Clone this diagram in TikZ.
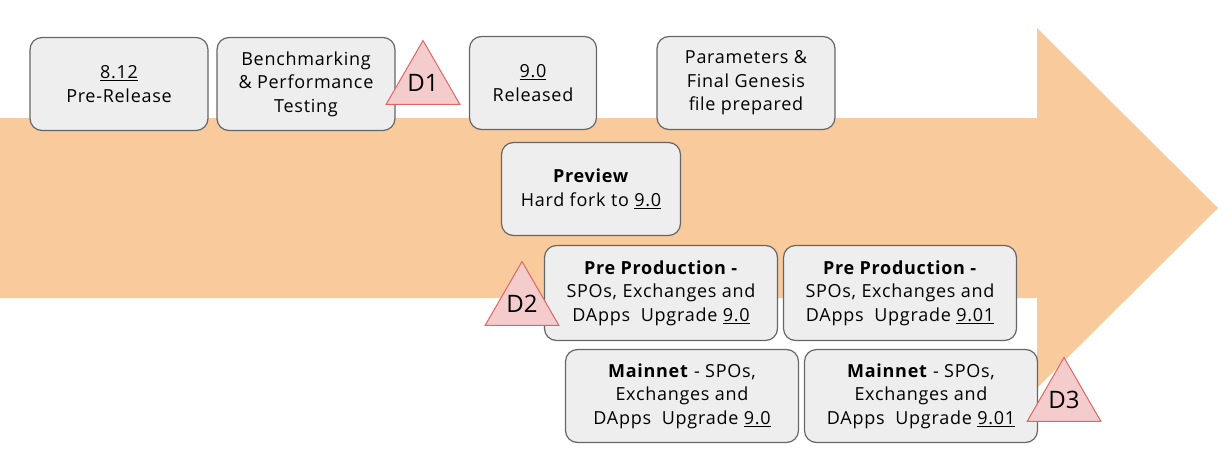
\documentclass[tikz,border=0pt]{standalone}
\usepackage{fontspec}
\setmainfont{Open Sans}
\newfontfamily\boxfont{Open Sans}[LetterSpace=4]
\usepackage{tikz}
\usetikzlibrary{shapes.geometric}
\definecolor{arrowfill}{HTML}{F9CB9C}
\definecolor{boxfill}{HTML}{EEEEEE}
\definecolor{boxline}{HTML}{666666}
\definecolor{decfill}{HTML}{F4CCCC}
\definecolor{decline}{HTML}{E06666}
\newcommand{\ver}[1]{\underline{#1}}

\begin{document}
\begin{tikzpicture}[x=1pt, y=-1pt,
stagebox/.style={draw=boxline, fill=boxfill, line width=1.2pt, rounded corners=12pt,
	inner sep=0pt, align=center, minimum height=93pt,
	font=\boxfont\fontsize{18}{23.5}\selectfont},
decision/.style={regular polygon, regular polygon sides=3, draw=decline, fill=decfill,
	line width=1pt, inner sep=-6pt, minimum size=85pt,
	font=\fontsize{24}{26}\selectfont}]
\useasboundingbox (0,0) rectangle (1223,458);
\def\wide{233pt}

%big arrow behind everything
\fill[arrowfill] (0,118) -- (1037,118) -- (1037,28) -- (1218,208)
	-- (1037,388) -- (1037,298) -- (0,298) -- cycle;

%top row
\node[stagebox, minimum width=178pt] (rel812) at (119,84) {\ver{8.12}\\Pre-Release};
\node[stagebox, minimum width=178pt] (bench) at (306,84) {Benchmarking\\\& Performance\\Testing};
\node[stagebox, minimum width=127pt] (rel90) at (533,83) {\ver{9.0}\\Released};
\node[stagebox, minimum width=178pt] (params) at (746,83) {Parameters \&\\Final Genesis\\file prepared};

%testnets and mainnet
\node[stagebox, minimum width=179pt] (preview) at (591,189) {\textbf{Preview}\\Hard fork to \ver{9.0}};
\node[stagebox, minimum width=\wide, minimum height=95pt] (preprodA) at (661,293)
	{\textbf{Pre Production -}\\SPOs, Exchanges and\\DApps\ \ Upgrade \ver{9.0}};
\node[stagebox, minimum width=\wide, minimum height=95pt] (preprodB) at (900,293)
	{\textbf{Pre Production -}\\SPOs, Exchanges and\\DApps\ \ Upgrade \ver{9.01}};
\node[stagebox, minimum width=\wide] (mainA) at (682,396)
	{\textbf{Mainnet} - SPOs,\\Exchanges and\\DApps\ \ Upgrade \ver{9.0}};
\node[stagebox, minimum width=\wide] (mainB) at (921,396)
	{\textbf{Mainnet} - SPOs,\\Exchanges and\\DApps\ \ Upgrade \ver{9.01}};

%decision points
\foreach \n/\x/\y in {1/423/83, 2/522/304, 3/1064/400}
	\node[decision] (d\n) at (\x,\y) {D\n};
\end{tikzpicture}
\end{document}
